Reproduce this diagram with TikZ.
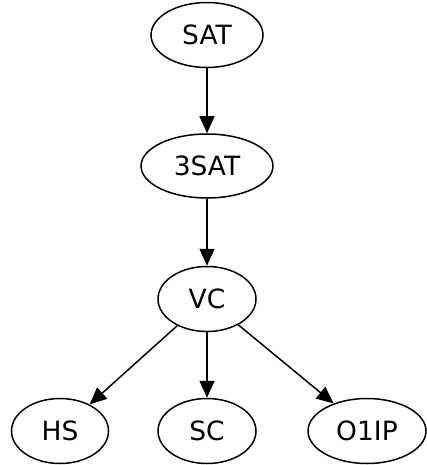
\documentclass[tikz,border=0pt]{standalone}
\usepackage{fontspec}
\setmainfont{DejaVu Sans}
\usetikzlibrary{shapes.geometric,arrows.meta}
\begin{document}
\begin{tikzpicture}[x=1pt,y=-1pt,
  st/.style={draw,ellipse,line width=1.5pt,inner sep=0pt,font=\fontsize{26.5}{30}\selectfont},
  ar/.style={draw,line width=1.5pt,-{Triangle[length=17pt,width=15pt]}}]
\useasboundingbox (0,0) rectangle (427,465);
\node[st,minimum width=112pt,minimum height=65pt] (sat) at (207,35) {SAT};
\node[st,minimum width=132pt,minimum height=64pt] (tsat) at (207,166) {3SAT};
\node[st,minimum width=98pt,minimum height=65pt] (vc) at (207,299) {VC};
\node[st,minimum width=97pt,minimum height=65pt] (hs) at (60,431) {HS};
\node[st,minimum width=98pt,minimum height=65pt] (sc) at (207,431) {SC};
\node[st,minimum width=118pt,minimum height=65pt] (oip) at (367,431) {O1IP};
\draw[ar] (sat) -- (tsat);
\draw[ar] (tsat) -- (vc);
\draw[ar] (vc) -- (hs);
\draw[ar] (vc) -- (sc);
\draw[ar] (vc) -- (oip);
\end{tikzpicture}
\end{document}
